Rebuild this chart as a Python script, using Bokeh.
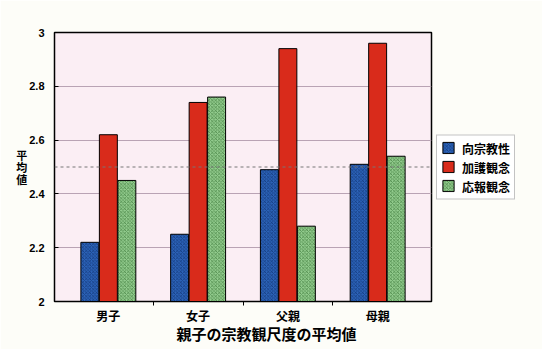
from bokeh.plotting import figure
from bokeh.models import (FixedTicker, Span, Range1d, ColumnDataSource, Legend, Title)
from bokeh.transform import dodge
from bokeh.embed import file_html
from bokeh.resources import INLINE

groups = ["男子", "女子", "父親", "母親"]
series = ["向宗教性", "加護観念", "応報観念"]
kojukyo = [2.22, 2.25, 2.49, 2.51]
kago = [2.62, 2.74, 2.94, 2.96]
ohou = [2.45, 2.76, 2.28, 2.54]
y_ticks = [2, 2.2, 2.4, 2.6, 2.8, 3]
y_labels = ["2", "2.2", "2.4", "2.6", "2.8", "3"]
reference_line = 2.5

JP = "Noto Sans CJK JP"
NUM = "Liberation Sans"

FW, FH = 377, 269
L, T, R, B = 54, 32, 95, 48  # frame 54..431 x 32..301

p = figure(width=L + FW + R, height=T + FH + B, frame_width=FW, frame_height=FH,
           output_backend="svg", toolbar_location=None,
           x_range=Range1d(-0.6, len(groups) - 0.4), y_range=Range1d(2, 3),
           min_border_left=L, min_border_top=T, min_border_right=10, min_border_bottom=B)

p.background_fill_color = "#fbeef4"
p.border_fill_color = "#fdfdf8"
p.outline_line_color = "black"
p.outline_line_width = 1.5

idx = list(range(len(groups)))
bw = 0.2
off = 0.206
src = ColumnDataSource(dict(xi=idx, a=kojukyo, b=kago, c=ohou))

r1 = p.vbar(x=dodge("xi", -off), top="a", bottom=2, width=bw, source=src,
            fill_color="#2c63b8", line_color="black", line_width=1,
            hatch_pattern="x", hatch_color="#0b2a66", hatch_scale=3.5, hatch_weight=0.7, hatch_alpha=0.8)
r2 = p.vbar(x=dodge("xi", 0), top="b", bottom=2, width=bw, source=src,
            fill_color="#d92b1b", line_color="black", line_width=1)
r3 = p.vbar(x=dodge("xi", off), top="c", bottom=2, width=bw, source=src,
            fill_color="#93cc8e", line_color="black", line_width=1,
            hatch_pattern="x", hatch_color="#2f6b2c", hatch_scale=3.5, hatch_weight=0.7, hatch_alpha=0.8)

p.add_layout(Span(location=reference_line, dimension="width", line_color="#777777",
                  line_dash="3 3", line_width=1))

# y axis
p.yaxis.ticker = FixedTicker(ticks=y_ticks)
p.yaxis.major_label_overrides = {t: l for t, l in zip(y_ticks, y_labels)}
p.yaxis.major_tick_in = 4
p.yaxis.major_tick_out = 0
p.yaxis.minor_tick_line_color = None
p.yaxis.major_label_text_font = NUM
p.yaxis.major_label_text_font_style = "bold"
p.yaxis.major_label_text_font_size = "11px"
p.yaxis.major_label_text_color = "black"
p.yaxis.major_label_standoff = 10
p.yaxis.axis_line_color = "black"
p.yaxis.axis_label = "平\n均\n値"
p.yaxis.axis_label_orientation = "horizontal"
p.yaxis.axis_label_text_font = JP
p.yaxis.axis_label_text_font_style = "bold"
p.yaxis.axis_label_text_font_size = "11px"
p.yaxis.axis_label_text_line_height = 0.75
p.yaxis.axis_label_text_color = "black"
p.yaxis.axis_label_standoff = -1

p.ygrid.ticker = FixedTicker(ticks=y_ticks)
p.ygrid.grid_line_color = "#b9a3b4"
p.ygrid.grid_line_width = 1
p.xgrid.grid_line_color = None

# x axis
p.xaxis.ticker = FixedTicker(ticks=idx, minor_ticks=[i + 0.5 for i in idx[:-1]])
p.xaxis.major_label_overrides = {i: g for i, g in zip(idx, groups)}
p.xaxis.major_tick_line_color = None
p.xaxis.major_tick_out = 0
p.xaxis.minor_tick_out = 4
p.xaxis.minor_tick_in = 0
p.xaxis.minor_tick_line_color = "black"
p.xaxis.major_label_text_font = JP
p.xaxis.major_label_text_font_style = "bold"
p.xaxis.major_label_text_font_size = "12px"
p.xaxis.major_label_text_color = "black"
p.xaxis.major_label_standoff = 1
p.xaxis.axis_line_color = "black"

p.add_layout(Title(text="親子の宗教観尺度の平均値", align="left", offset=122,
                   text_font=JP, text_font_size="15px", text_font_style="bold",
                   text_color="black", standoff=-12), "below")

legend = Legend(items=[(series[0], [r1]), (series[1], [r2]), (series[2], [r3])],
                location="left", margin=5, padding=4, spacing=2,
                glyph_width=14, glyph_height=14, label_height=14, label_standoff=7,
                label_text_font=JP, label_text_font_size="12px", label_text_font_style="bold",
                label_text_color="black", border_line_color="#888888", border_line_width=1,
                background_fill_color="white")
p.add_layout(legend, "right")

open("out.html", "w").write(file_html(p, INLINE))
